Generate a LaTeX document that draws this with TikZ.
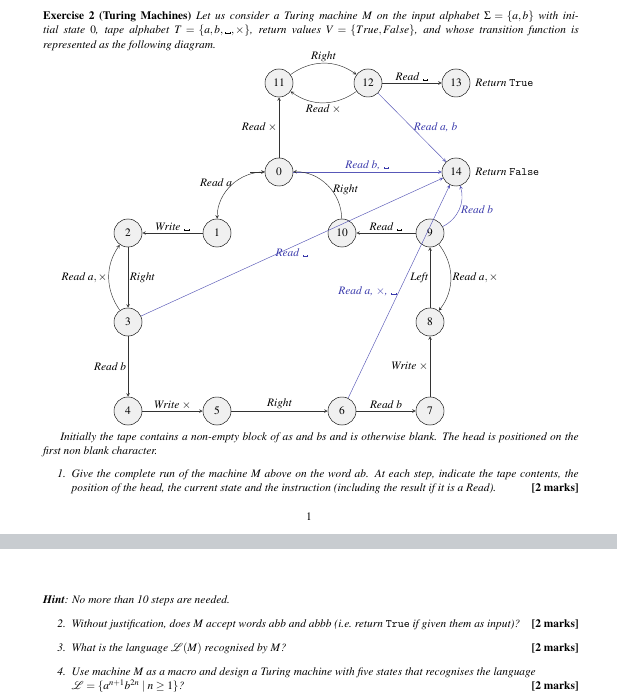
\documentclass[tikz,border=0pt]{standalone}
\usepackage[T1]{fontenc}
\usepackage{mathptmx}
\usepackage{xcolor}
\usepackage{tikz}
\usetikzlibrary{positioning}

\definecolor{tmblue}{RGB}{58,58,172}
\definecolor{bandgray}{RGB}{200,204,208}
\newcommand{\blnk}{\mbox{\kern.06em\vrule width .045em height .32ex\vrule width .36em height .045em\vrule width .045em height .32ex\kern.06em}}
\newcommand{\tmtt}[1]{{\fontencoding{OT1}\fontfamily{cmtt}\fontseries{m}\fontshape{n}\selectfont #1}}
\newcommand{\twomarks}{\unskip\nobreak\hspace{1em plus 1fill}{\upshape\bfseries [2 marks]}{\parfillskip=0pt\par}}

\begin{document}
\begin{tikzpicture}[x=0.8772pt, y=-0.8772pt, >=stealth,
  every node/.style={font=\itshape},
  st/.style={circle, draw, fill=gray!12, minimum size=24.6pt, inner sep=0pt, font=\upshape},
  lbl/.style={inner sep=1.5pt},
  blbl/.style={lbl, text=tmblue},
  ed/.style={->, draw=black!80},
  bed/.style={->, draw=tmblue!85},
  txt/.style={text width=469.75pt, align=justify, inner sep=0pt, anchor=north west,
    font=\fontsize{10}{12.7}\selectfont\itshape}]
\useasboundingbox[fill=white] (0,0) rectangle (617,700);

% exercise statement
\node[txt] (intro) at (43,8.9) {\strut{\upshape\bfseries Exercise 2 (Turing Machines)} Let us consider a Turing machine $M$ on the input alphabet $\Sigma=\{a,b\}$ with ini-\linebreak tial state $0$, tape alphabet $T=\{a,b,\blnk,\times\}$, return values $V=\{\tmtt{True},\tmtt{False}\}$, and whose transition function is\linebreak represented as the following diagram.};

% states
\node[st] (s0) at (279,172) {0};
\node[st] (s1) at (217,233) {1};
\node[st] (s2) at (128,233) {2};
\node[st] (s3) at (128,322) {3};
\node[st] (s4) at (128,411) {4};
\node[st] (s5) at (217,411) {5};
\node[st] (s6) at (342,411) {6};
\node[st] (s7) at (430,411) {7};
\node[st] (s8) at (430,322) {8};
\node[st] (s9) at (430,233) {9};
\node[st] (s10) at (342,233) {10};
\node[st] (s11) at (279,83) {11};
\node[st] (s12) at (368,83) {12};
\node[st] (s13) at (456,83) {13};
\node[st] (s14) at (456,172) {14};
\node[right=1pt of s13] (ret13) {Return \tmtt{True}};
\node[right=1pt of s14] (ret14) {Return \tmtt{False}};
\coordinate (init) at (250,172);

% transitions
\draw[ed] (init) -- (s0);
\draw[ed] (s0) -- node[lbl, left] {Read $\times$} (s11);
\draw[ed] (s11) to[bend left=36] node[lbl, above] {Right} (s12);
\draw[ed] (s12) to[bend left=36] node[lbl, below] {Read $\times$} (s11);
\draw[ed] (s12) -- node[lbl, above] {Read \blnk} (s13);
\draw[bed] (s12) -- node[blbl, right] {Read $a$, $b$} (s14);
\draw[bed] (s0) -- node[blbl, above] {Read $b$, \blnk} (s14);
\draw[ed] (s0) to[bend right=45] node[lbl, left, pos=.45] {Read $a$} (s1);
\draw[ed] (s10) to[bend right=45] node[lbl, right, pos=.42] {Right} (s0);
\draw[ed] (s1) -- node[lbl, above] {Write \blnk} (s2);
\draw[ed] (s2) -- node[lbl, right] {Right} (s3);
\draw[ed] (s3) to[bend left=35] node[lbl, left] {Read $a,\times$} (s2);
\draw[bed] (s3) -- node[blbl, below, pos=.5] {Read \blnk} (s14);
\draw[ed] (s3) -- node[lbl, left] {Read $b$} (s4);
\draw[ed] (s4) -- node[lbl, above] {Write $\times$} (s5);
\draw[ed] (s5) -- node[lbl, above] {Right} (s6);
\draw[ed] (s6) -- node[lbl, above] {Read $b$} (s7);
\draw[ed] (s7) -- node[lbl, left] {Write $\times$} (s8);
\draw[ed] (s8) -- node[lbl, left] {Left} (s9);
\draw[ed] (s9) to[bend left=38] node[lbl, right] {Read $a,\times$} (s8);
\draw[ed] (s9) -- node[lbl, above] {Read \blnk} (s10);
\draw[bed] (s9) to[bend right=40] node[blbl, right] {Read $b$} (s14);
\draw[bed] (s6) -- node[blbl, left, pos=.5] {Read $a$, $\times$, \blnk} (s14);

% rest of page 1
\node[txt] (init-tape) at (43,429.9) {\strut\hspace*{15pt}Initially the tape contains a non-empty block of as and bs and is otherwise blank. The head is positioned on the\linebreak first non blank character.};
\node[txt] (q1) at (43,466.9) {\leftskip=25pt\strut\llap{1.\hspace{5pt}}Give the complete run of the machine $M$ above on the word $ab$. At each step, indicate the tape contents, the\linebreak position of the head, the current state and the instruction (including the result if it is a Read).\twomarks};
\node[font=\upshape] (pgnum) at (309,517) {1};

% page gap
\fill[bandgray] (0,534) rectangle (617,549);

% page 2
\node[txt] (hint) at (43,592.9) {\leftskip=25pt\strut\textbf{Hint}: No more than 10 steps are needed.};
\node[txt] (q2) at (43,616.9) {\leftskip=25pt\strut\llap{2.\hspace{5pt}}Without justification, does $M$ accept words $abb$ and $abbb$ (i.e.\ return \tmtt{True} if given them as input)?\twomarks};
\node[txt] (q3) at (43,640.9) {\leftskip=25pt\strut\llap{3.\hspace{5pt}}What is the language $\mathcal{L}(M)$ recognised by $M$?\twomarks};
\node[txt] (q4) at (43,664.9) {\leftskip=25pt\strut\llap{4.\hspace{5pt}}Use machine $M$ as a macro and design a Turing machine with five states that recognises the language\newline $\mathcal{L}=\{a^{n+1}b^{2n}\mid n\geq 1\}$?\twomarks};
\end{tikzpicture}
\end{document}
